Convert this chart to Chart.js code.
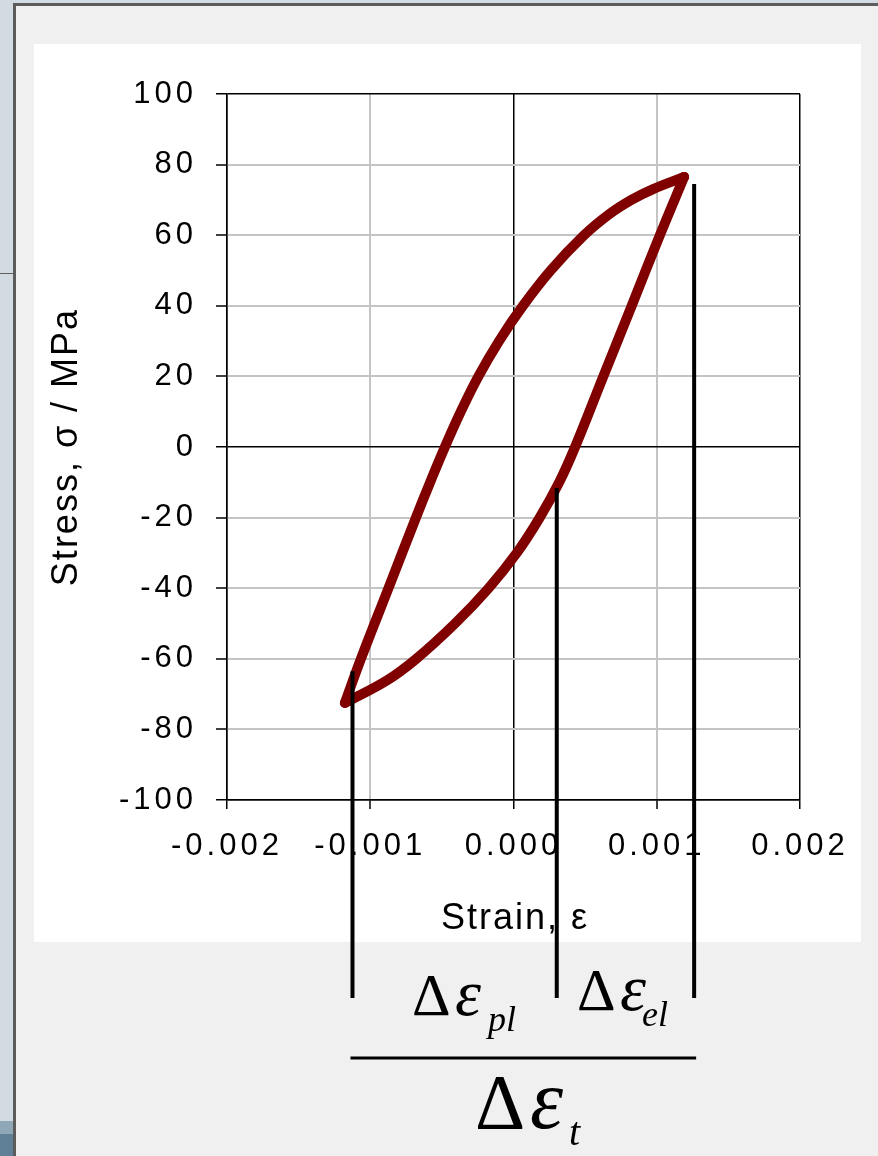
<!DOCTYPE html>
<html>
<head>
<meta charset="utf-8">
<script src="https://cdn.jsdelivr.net/npm/chart.js@4/dist/chart.umd.min.js"></script>
<style>
  html, body { margin: 0; padding: 0; background: #f0f0f0; }
  #wrap { position: absolute; left: 0; top: 0; width: 878px; height: 1156px; }
</style>
</head>
<body>
<div id="wrap"><canvas id="loop" width="878" height="1156"></canvas></div>
<script>
// loading branch, from the compressive tip up to the tensile tip
var loadStrain = [-0.001177, -0.001065, -0.000873, -0.000681, -0.000582, -0.000479, -0.000368, -0.000245, -0.000101, 0.000066, 0.000259, 0.000493, 0.00067, 0.000823, 0.000971, 0.001191];
var loadStress = [-72.5, -60, -40, -20, -10, 0, 10, 20, 30, 40, 50, 60, 66, 70, 73, 76.5];

// unloading branch, back down to the compressive tip
var unloadStrain = [0.001191, 0.001022, 0.000825, 0.000627, 0.00043, 0.000319, 0.000183, 0.000023, -0.000174, -0.000408, -0.000679, -0.000879, -0.001177];
var unloadStress = [76.5, 60, 40, 20, 0, -10, -20, -30, -40, -50, -60, -66, -72.5];

// strain range markers (plastic / elastic split) and where they start on the loop
var markerStrain = [-0.001124, 0.000302, 0.001261];
var markerStress = [-63.5, -11.6, 74.5];

var xTicks = [-0.002, -0.001, 0, 0.001, 0.002];
var yTicks = [-100, -80, -60, -40, -20, 0, 20, 40, 60, 80, 100];

function pts(xs, ys) {
  return xs.map(function (x, i) { return { x: x, y: ys[i] }; });
}

function isFrame(v, lim) {
  return Math.abs(v) < 1e-9 || Math.abs(Math.abs(v) - lim) < 1e-9;
}

var sansFont = "'Liberation Sans', Arial, sans-serif";
var serifFont = "'Liberation Serif', 'Times New Roman', serif";

var framePlugin = {
  id: 'frame',
  beforeDraw: function (chart) {
    var c = chart.ctx;
    c.save();
    c.fillStyle = '#f0f0f0';
    c.fillRect(0, 0, 878, 1156);
    // window chrome on the left and top
    c.fillStyle = '#d2dbe2';
    c.fillRect(0, 0, 14, 1156);
    c.fillRect(0, 0, 878, 4);
    c.fillStyle = '#8fa8b8';
    c.fillRect(0, 1121, 14, 13);
    c.fillStyle = '#5f8097';
    c.fillRect(0, 1134, 14, 22);
    c.fillStyle = '#606060';
    c.fillRect(0, 273, 14, 1);
    c.fillStyle = '#5c5c5c';
    c.fillRect(13, 3, 3, 1153);
    c.fillRect(13, 3, 865, 3);
    // white chart panel
    c.fillStyle = '#ffffff';
    c.fillRect(34, 44, 827, 898);
    c.restore();
    c.letterSpacing = '4px';
  },
  afterDraw: function (chart) {
    var c = chart.ctx;
    var xs = chart.scales.x, ys = chart.scales.y;
    c.save();
    c.letterSpacing = '2px';
    c.fillStyle = '#000';
    c.font = '36px ' + sansFont;
    c.textAlign = 'center';
    c.textBaseline = 'alphabetic';
    c.fillText('Strain, ε', 515, 929);
    c.save();
    c.translate(77, (ys.top + ys.bottom) / 2);
    c.rotate(-Math.PI / 2);
    c.fillText('Stress, σ / MPa', 0, 0);
    c.restore();

    // marker lines down below the panel
    c.strokeStyle = '#000';
    c.lineWidth = 4;
    var px = [];
    for (var i = 0; i < markerStrain.length; i++) {
      var x = xs.getPixelForValue(markerStrain[i]);
      px.push(x);
      c.beginPath();
      c.moveTo(x, ys.getPixelForValue(markerStress[i]));
      c.lineTo(x, 998);
      c.stroke();
    }
    // fraction bar
    c.lineWidth = 3;
    c.beginPath();
    c.moveTo(px[0] - 2, 1058);
    c.lineTo(px[2] + 2, 1058);
    c.stroke();

    c.letterSpacing = '0px';
    c.textAlign = 'left';
    drawStrain(c, 412, 1015, 60, 455, 66, 'pl', 488, 1031, 36);
    drawStrain(c, 577, 1010, 60, 620, 66, 'el', 642, 1026, 36);
    drawStrain(c, 475, 1128, 78, 530, 84, 't', 569, 1145, 40);
    c.restore();
  }
};

function drawStrain(c, dx, base, dSize, ex, eSize, sub, sx, sBase, sSize) {
  c.font = dSize + 'px ' + serifFont;
  c.fillText('Δ', dx, base);
  c.font = 'italic ' + eSize + 'px ' + serifFont;
  c.fillText('ε', ex, base);
  c.font = 'italic ' + sSize + 'px ' + serifFont;
  c.fillText(sub, sx, sBase);
}

var lineStyle = {
  borderColor: '#800000',
  backgroundColor: '#800000',
  borderWidth: 10,
  borderCapStyle: 'round',
  borderJoinStyle: 'round',
  pointRadius: 0,
  tension: 0.4,
  fill: false
};

new Chart(document.getElementById('loop').getContext('2d'), {
  type: 'line',
  data: {
    datasets: [
      Object.assign({ label: 'loading', data: pts(loadStrain, loadStress) }, lineStyle),
      Object.assign({ label: 'unloading', data: pts(unloadStrain, unloadStress) }, lineStyle)
    ]
  },
  options: {
    responsive: false,
    animation: false,
    devicePixelRatio: 1,
    layout: { padding: { top: 94, right: 78, bottom: 0, left: 0 } },
    plugins: { legend: { display: false }, tooltip: { enabled: false } },
    scales: {
      x: {
        type: 'linear',
        min: -0.002,
        max: 0.002,
        afterFit: function (s) { s.height = 356; },
        afterBuildTicks: function (s) { s.ticks = xTicks.map(function (v) { return { value: v }; }); },
        ticks: {
          color: '#000',
          padding: 19,
          font: { family: sansFont, size: 31 },
          callback: function (v) { return Number(v).toFixed(3); }
        },
        grid: {
          color: function (ctx) { return ctx.tick && isFrame(ctx.tick.value, 0.002) ? '#000' : '#c4c4c4'; },
          lineWidth: function (ctx) { return ctx.tick && isFrame(ctx.tick.value, 0.002) ? 1.5 : 2; },
          tickColor: '#000',
          tickWidth: 1.5,
          tickLength: 9
        },
        border: { color: '#000', width: 1.5 }
      },
      y: {
        type: 'linear',
        min: -100,
        max: 100,
        afterFit: function (s) { s.width = 227; },
        afterBuildTicks: function (s) { s.ticks = yTicks.map(function (v) { return { value: v }; }); },
        ticks: {
          color: '#000',
          padding: 19,
          font: { family: sansFont, size: 31 }
        },
        grid: {
          color: function (ctx) { return ctx.tick && isFrame(ctx.tick.value, 100) ? '#000' : '#c4c4c4'; },
          lineWidth: function (ctx) { return ctx.tick && isFrame(ctx.tick.value, 100) ? 1.5 : 2; },
          tickColor: '#000',
          tickWidth: 1.5,
          tickLength: 11
        },
        border: { color: '#000', width: 1.5 }
      }
    }
  },
  plugins: [framePlugin]
});
</script>
</body>
</html>
